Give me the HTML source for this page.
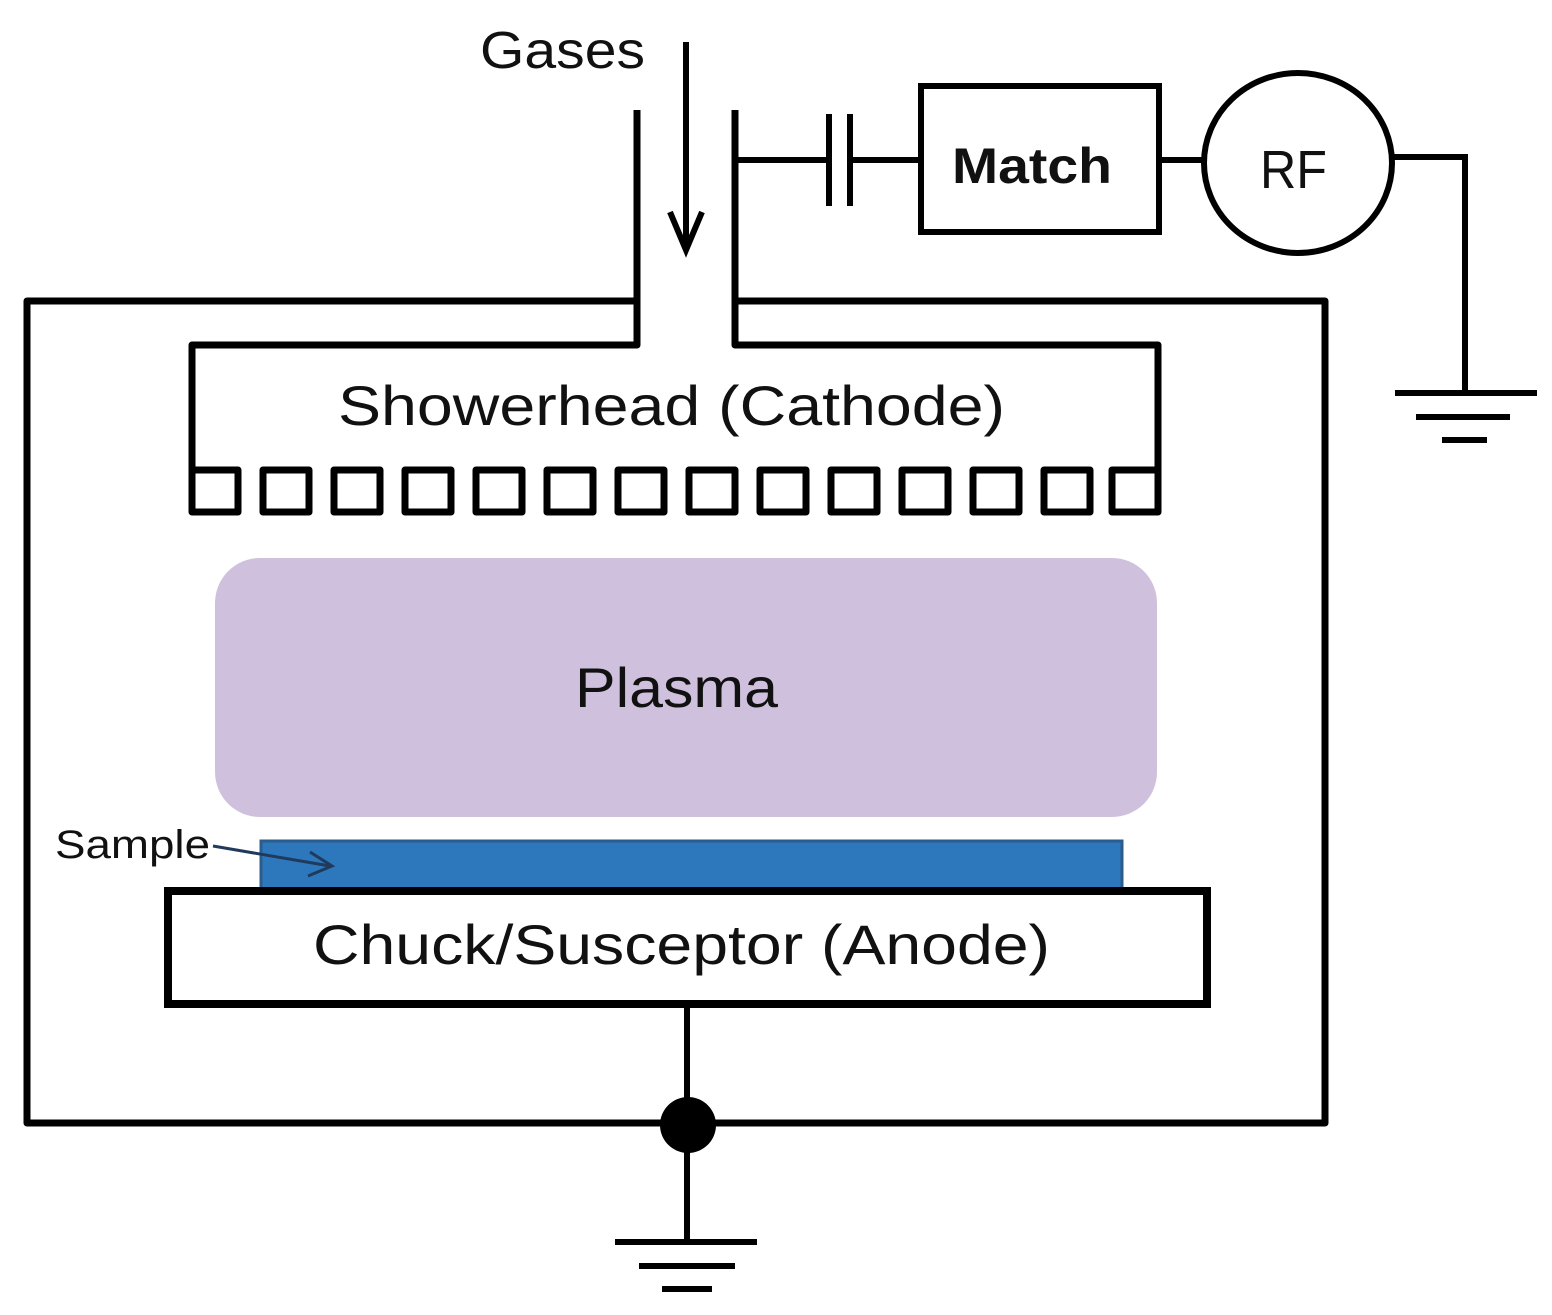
<!DOCTYPE html>
<html><head><meta charset="utf-8"><style>
html,body{margin:0;padding:0;background:#fff;}
svg{display:block;}
text{font-family:"Liberation Sans",sans-serif;fill:#111;}
</style></head><body>
<svg width="1552" height="1315" viewBox="0 0 1552 1315" xmlns="http://www.w3.org/2000/svg">
<g fill="none" stroke="#000" stroke-width="7" stroke-linejoin="round">
<polyline points="637,110 637,301 27,301 27,1123 1325,1123 1325,301 735,301 735,110"/>
<polyline points="637,301 637,345 192,345 192,490"/>
<polyline points="735,301 735,345 1158,345 1158,490"/>
</g>
<g fill="none" stroke="#000" stroke-width="7" stroke-linejoin="round">
<rect x="192" y="470" width="46" height="42"/>
<rect x="263" y="470" width="46" height="42"/>
<rect x="334" y="470" width="46" height="42"/>
<rect x="405" y="470" width="46" height="42"/>
<rect x="476" y="470" width="46" height="42"/>
<rect x="547" y="470" width="46" height="42"/>
<rect x="618" y="470" width="46" height="42"/>
<rect x="689" y="470" width="46" height="42"/>
<rect x="760" y="470" width="46" height="42"/>
<rect x="831" y="470" width="46" height="42"/>
<rect x="902" y="470" width="46" height="42"/>
<rect x="973" y="470" width="46" height="42"/>
<rect x="1044" y="470" width="46" height="42"/>
<rect x="1112" y="470" width="46" height="42"/>
</g>
<line x1="686" y1="42" x2="686" y2="244" stroke="#000" stroke-width="6"/>
<polyline points="670,212 686,250 702,212" fill="none" stroke="#000" stroke-width="6"/>
<text x="480" y="68" font-size="52" textLength="165" lengthAdjust="spacingAndGlyphs">Gases</text>
<g stroke="#000" stroke-width="6" fill="none">
<line x1="735" y1="160" x2="829" y2="160"/>
<line x1="829" y1="114" x2="829" y2="206"/>
<line x1="850" y1="114" x2="850" y2="206"/>
<line x1="850" y1="160" x2="921" y2="160"/>
<rect x="921" y="86" width="238" height="146"/>
<line x1="1159" y1="160" x2="1205" y2="160"/>
<ellipse cx="1298" cy="163" rx="94" ry="90"/>
<polyline points="1392,157 1465,157 1465,393"/>
<line x1="1395" y1="393" x2="1537" y2="393"/>
<line x1="1416" y1="417" x2="1510" y2="417"/>
<line x1="1442" y1="440" x2="1487" y2="440"/>
</g>
<text x="952" y="183" font-size="50" font-weight="bold" textLength="160" lengthAdjust="spacingAndGlyphs">Match</text>
<text x="1260" y="188" font-size="54" textLength="67" lengthAdjust="spacingAndGlyphs">RF</text>
<text x="338" y="425" font-size="56" textLength="667" lengthAdjust="spacingAndGlyphs">Showerhead (Cathode)</text>
<rect x="215" y="558" width="942" height="259" rx="45" fill="#cfc1dd"/>
<text x="575" y="707" font-size="56" textLength="203" lengthAdjust="spacingAndGlyphs">Plasma</text>
<rect x="261" y="841" width="861" height="48" fill="#2d78bd" stroke="#2a5c8c" stroke-width="3"/>
<text x="55" y="858" font-size="40" textLength="155" lengthAdjust="spacingAndGlyphs">Sample</text>
<line x1="213" y1="846" x2="330" y2="866" stroke="#1f3a5c" stroke-width="3"/>
<polyline points="310,852 332,866 308,876" fill="none" stroke="#1f3a5c" stroke-width="3"/>
<rect x="168" y="891" width="1039" height="113" fill="#fff" stroke="#000" stroke-width="8"/>
<text x="313" y="964" font-size="56" textLength="737" lengthAdjust="spacingAndGlyphs">Chuck/Susceptor (Anode)</text>
<g stroke="#000" stroke-width="6">
<line x1="687" y1="1004" x2="687" y2="1242"/>
<line x1="615" y1="1242" x2="757" y2="1242"/>
<line x1="639" y1="1266" x2="735" y2="1266"/>
<line x1="662" y1="1289" x2="712" y2="1289"/>
</g>
<ellipse cx="688" cy="1125" rx="28" ry="28" fill="#000"/>
</svg>
</body></html>
